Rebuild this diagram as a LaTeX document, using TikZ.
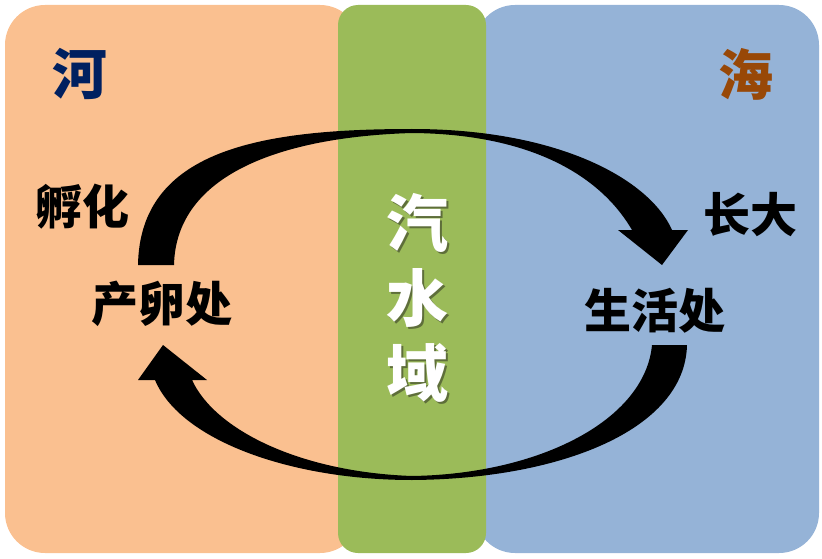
\documentclass[tikz,border=0pt]{standalone}
\usepackage{fontspec}
\newfontfamily\cjk{Noto Sans CJK SC}
\usepackage{xcolor}
\usepackage{tikz}
\definecolor{River}{HTML}{FAC090}
\definecolor{Brackish}{HTML}{9BBB59}
\definecolor{Sea}{HTML}{95B3D7}
\definecolor{RiverInk}{HTML}{002060}
\definecolor{SeaInk}{HTML}{984807}
\definecolor{Shade}{HTML}{5E6E3A}

\begin{document}
\begin{tikzpicture}[
  x=1pt,y=-1pt,
  panel/.style={rounded corners=40pt},
  place/.style={font=\cjk\bfseries\fontsize{47}{47}\selectfont,inner sep=0pt},
  water/.style={font=\cjk\bfseries\fontsize{55}{55}\selectfont,inner sep=0pt},
  mid/.style={font=\cjk\bfseries\fontsize{62}{75}\selectfont,inner sep=0pt,align=center},
  flow/.style={fill=black}]
\useasboundingbox (0,0) rectangle (822,559);
% three zones
\fill[River,panel] (5,5) rectangle (360,553);
\fill[Sea,panel] (475,5) rectangle (819,553);
\fill[Brackish,rounded corners=20pt] (338,5) rectangle (486,553);
% labels
\node[water,text=RiverInk] (river) at (80,74) {河};
\node[water,text=SeaInk] (sea) at (746,74) {海};
\node[mid,text=Shade] (midshade) at (419,300) {汽\\水\\域};
\node[mid,text=white] (mid) at (417,298) {汽\\水\\域};
\node[place] (hatch) at (82,207) {孵化};
\node[place] (spawn) at (162,304) {产卵处};
\node[place] (grow) at (750,215) {长大};
\node[place] (live) at (655,311) {生活处};
% the cycle
\fill[flow] (138,265) .. controls (140,150) and (260,129) .. (412,129)
  .. controls (560,129) and (650,180) .. (672,230) -- (688,230) -- (662,265)
  -- (618,230) -- (632,230)
  .. controls (600,175) and (530,134) .. (412,133)
  .. controls (280,137) and (176,175) .. (174,265) -- cycle;
\fill[flow] (687,345) .. controls (685,430) and (560,479) .. (412,480)
  .. controls (290,480) and (180,440) .. (155,380) -- (138,380) -- (163,345)
  -- (207,380) -- (192,380)
  .. controls (215,430) and (300,472) .. (412,476)
  .. controls (540,474) and (645,420) .. (652,345) -- cycle;
\end{tikzpicture}
\end{document}
